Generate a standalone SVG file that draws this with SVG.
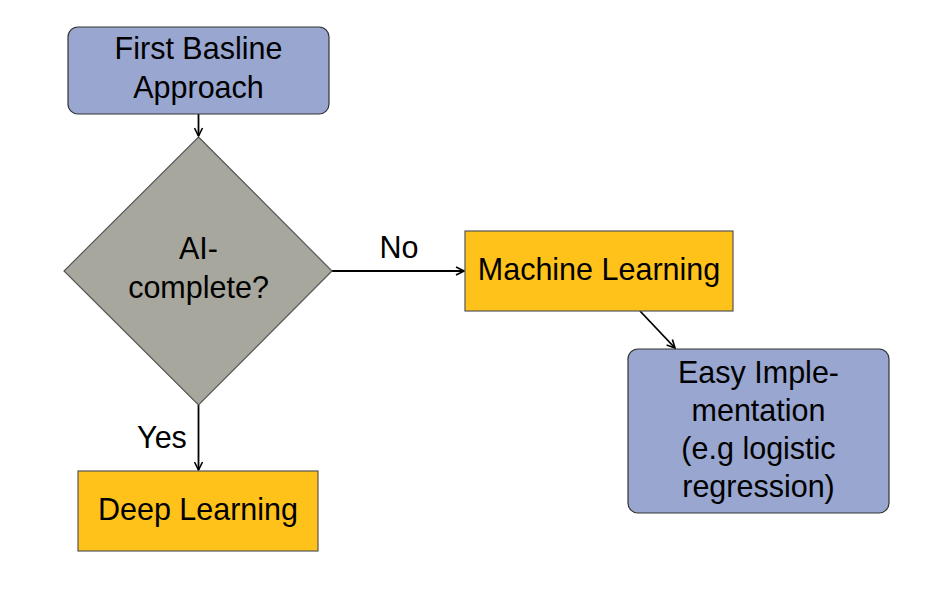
<svg xmlns="http://www.w3.org/2000/svg" width="942" height="597" viewBox="0 0 942 597">
<style>
text{font-family:"Liberation Sans",Arial,sans-serif;font-size:30.5px;fill:#000;text-anchor:middle}
.blue{fill:#99a6cf;stroke:#333;stroke-width:1.2}
.gold{fill:#ffc21a;stroke:#555;stroke-width:1.2}
.gray{fill:#a7a79d;stroke:#555;stroke-width:1.2}
.c{stroke:#000;stroke-width:1.8;fill:none;marker-end:url(#ah)}
</style>
<defs>
<marker id="ah" viewBox="0 0 10 10" refX="9" refY="5" markerWidth="10" markerHeight="10" orient="auto" markerUnits="userSpaceOnUse">
<path d="M1,1 L9,5 L1,9" fill="none" stroke="#000" stroke-width="1.6"/>
</marker>
</defs>
<rect width="942" height="597" fill="#fff"/>
<g id="connectors">
<line class="c" x1="198.5" y1="114" x2="198.5" y2="136"/>
<line class="c" x1="332" y1="271" x2="464" y2="271"/>
<line class="c" x1="640" y1="311" x2="675" y2="348"/>
<line class="c" x1="198.5" y1="405" x2="198.5" y2="470"/>
<text x="399" y="258">No</text>
<text x="162" y="448">Yes</text>
</g>
<g id="start">
<rect class="blue" x="68" y="27" width="261" height="87" rx="10"/>
<text x="198.5" y="59">First Basline</text>
<text x="198.5" y="98">Approach</text>
</g>
<g id="decision">
<polygon class="gray" points="198.5,137 332,271 198.5,405 64,271"/>
<text x="198.5" y="259">AI-</text>
<text x="198.5" y="298">complete?</text>
</g>
<g id="ml">
<rect class="gold" x="465" y="231" width="268" height="80"/>
<text x="599" y="280">Machine Learning</text>
</g>
<g id="easy">
<rect class="blue" x="628" y="349" width="261" height="164" rx="10"/>
<text x="758.5" y="383">Easy Imple-</text>
<text x="758.5" y="421">mentation</text>
<text x="758.5" y="459">(e.g logistic</text>
<text x="758.5" y="497">regression)</text>
</g>
<g id="dl">
<rect class="gold" x="78" y="471" width="240" height="80"/>
<text x="198" y="520">Deep Learning</text>
</g>
</svg>
